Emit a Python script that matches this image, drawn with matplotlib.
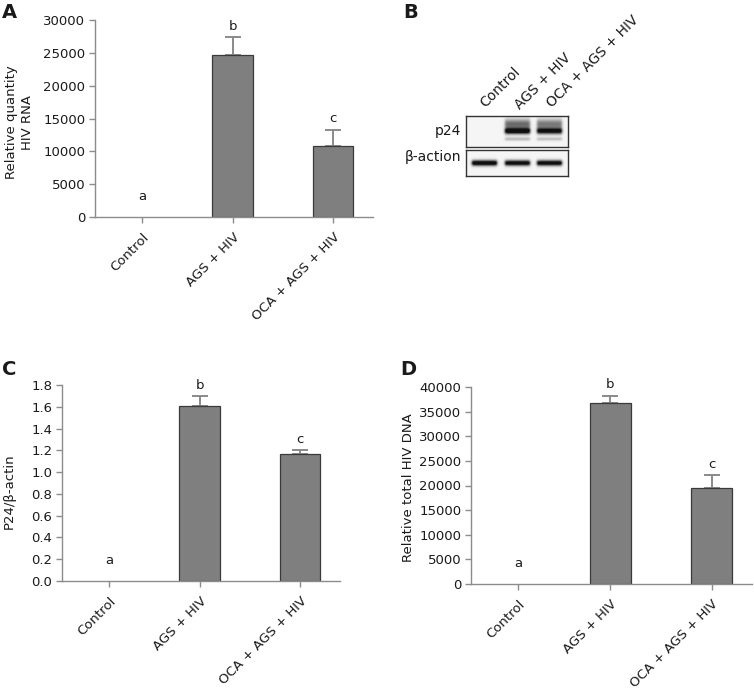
import numpy as np
import matplotlib
matplotlib.use('Agg')
import matplotlib.pyplot as plt

# group names, same three groups in every panel
groups = ['Control', 'AGS + HIV', 'OCA + AGS + HIV']
letters = ['a', 'b', 'c']

# panel A - relative quantity of HIV RNA
rna_mean = [0, 24700, 10800]
rna_err = [0, 2750, 2500]

# panel C - p24 / beta-actin densitometry
p24_mean = [0.0, 1.61, 1.165]
p24_err = [0.0, 0.09, 0.04]

# panel D - total HIV DNA
dna_mean = [0, 36750, 19450]
dna_err = [0, 1500, 2600]

# panel B - western blot band intensities (0 = no band, 1 = full)
p24_band = [0.0, 1.0, 0.9]
actin_band = [1.0, 0.95, 0.95]

W, H = 754, 694
fig = plt.figure(figsize=(W / 100, H / 100), dpi=100)
plt.rcParams['font.family'] = 'DejaVu Sans'

def rect(x0, y0, x1, y1):
    # pixel box (top-left origin) -> figure fraction
    return [x0 / W, 1 - y1 / H, (x1 - x0) / W, (y1 - y0) / H]

def fpos(x, y):
    return x / W, 1 - y / H

xpos = [0, 1, 2.1]   # the third group sits a little further right in the original

def bar_panel(box, mean, err, ymax, ystep, ylabel, lab_x, lab_y, fmt):
    ax = fig.add_axes(rect(*box))
    mean = np.array(mean, float)
    err = np.array(err, float)
    xs = np.array(xpos)
    shown = mean > 0
    ax.bar(xs[shown], mean[shown], width=0.45, color='#7f7f7f', edgecolor='#3a3a3a',
           linewidth=0.9, zorder=2)
    ax.errorbar(xs[shown], mean[shown], yerr=[np.zeros(shown.sum()), err[shown]],
                fmt='none', ecolor='#8a8a8a', elinewidth=1.4, capsize=6,
                capthick=1.4, zorder=1)
    for x, m, e, t in zip(xs, mean, err, letters):
        off = 10 if m == 0 else 3
        ax.annotate(t, (x, m + e), xytext=(0, off), textcoords='offset points',
                    ha='center', va='bottom', fontsize=9.5, color='#1a1a1a',
                    annotation_clip=False)
    ax.set_xlim(-0.516, 2.54)
    ax.set_ylim(0, ymax)
    ax.set_yticks(np.arange(0, ymax + ystep / 2, ystep))
    ax.yaxis.set_major_formatter(plt.FormatStrFormatter(fmt))
    ax.set_xticks(xs)
    ax.set_xticklabels(groups, rotation=45, ha='right', va='top',
                       rotation_mode='anchor')
    for s in ['top', 'right']:
        ax.spines[s].set_visible(False)
    for s in ['left', 'bottom']:
        ax.spines[s].set_color('#8c8c8c')
        ax.spines[s].set_linewidth(1.0)
    ax.tick_params(direction='out', length=4, width=1, color='#8c8c8c',
                   labelsize=9.5, labelcolor='#1a1a1a', pad=3)
    ax.tick_params(axis='x', pad=6)
    ax.set_ylabel(ylabel, fontsize=9.5, color='#1a1a1a', linespacing=1.3)
    ax.yaxis.set_label_coords(lab_x, lab_y)
    return ax

bar_panel((95, 20, 373, 217), rna_mean, rna_err, 30000, 5000,
          'Relative quantity\nHIV RNA', -0.22, 0.48, '%d')
bar_panel((62, 385, 340, 581), p24_mean, p24_err, 1.8, 0.2,
          'P24/\u03b2-actin', -0.165, 0.46, '%.1f')
bar_panel((471, 387, 752, 584), dna_mean, dna_err, 40000, 5000,
          'Relative total HIV DNA', -0.20, 0.49, '%d')

# western blot strips, built from the band intensities
lane_c = [18, 51, 83]
lane_w = 25

def strip(h, bands, rows):
    xx = np.arange(102)[None, :]
    yy = np.arange(h)[:, None]
    dark = np.zeros((h, 102))
    for c, amp in zip(lane_c, bands):
        prof = 0.5 * (np.tanh((xx - (c - lane_w / 2)) / 1.5) -
                      np.tanh((xx - (c + lane_w / 2)) / 1.5))
        for yc, sig, k in rows:
            dark += amp * k * prof * np.exp(-0.5 * ((yy - yc) / sig) ** 2)
    return 0.96 - 0.9 * np.clip(dark, 0, 1)

p24_img = strip(31, p24_band, [(14.5, 2.2, 1.2), (7.5, 3.5, 0.6), (22.5, 1.3, 0.25)])
actin_img = strip(26, actin_band, [(12.5, 2.0, 1.2)])

for box, img in [((466, 116, 568, 147), p24_img), ((466, 150, 568, 176), actin_img)]:
    bx = fig.add_axes(rect(*box))
    bx.imshow(img, cmap='gray', vmin=0, vmax=1, aspect='auto', interpolation='bilinear')
    bx.set_xticks([])
    bx.set_yticks([])
    for s in bx.spines.values():
        s.set_color('#333333')
        s.set_linewidth(1.0)

fig.text(*fpos(461, 131), 'p24', ha='right', va='center', fontsize=10, color='#1a1a1a')
fig.text(*fpos(461, 157), '\u03b2-action', ha='right', va='center', fontsize=10, color='#1a1a1a')
for (x, y), g in zip([(487, 110), (522, 112), (554, 110)], groups):
    fig.text(*fpos(x, y), g, rotation=45, ha='left', va='bottom',
             rotation_mode='anchor', fontsize=10, color='#1a1a1a')

# panel letters
for (x, y), t in zip([(2, 18), (403, 18), (2, 375), (400, 375)], 'ABCD'):
    fig.text(*fpos(x, y), t, fontsize=14, fontweight='bold', ha='left',
             va='baseline', color='#1a1a1a')

fig.savefig('out.png', dpi=100, facecolor='white')
